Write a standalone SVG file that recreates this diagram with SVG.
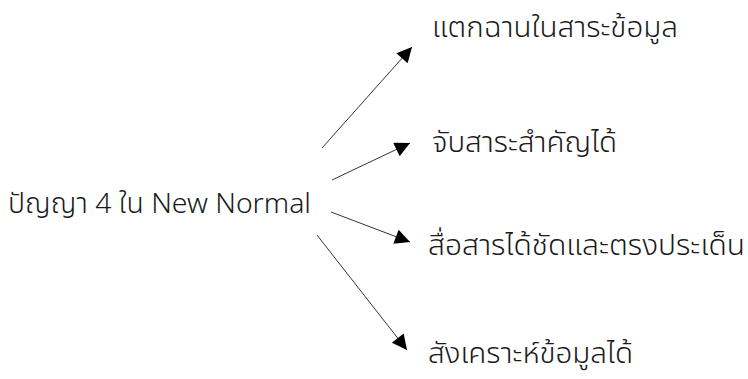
<svg xmlns="http://www.w3.org/2000/svg" width="748" height="379" viewBox="0 0 748 379">
<defs>
<style>
text{font-family:"Noto Sans Thai","Noto Sans","DejaVu Sans",sans-serif;font-size:28px;font-weight:300;fill:#1a1a1a}
.c{stroke:#000;stroke-width:0.8;fill:none;marker-end:url(#ah)}
</style>
<marker id="ah" viewBox="0 0 10 10" refX="10" refY="5" markerWidth="19" markerHeight="15" markerUnits="userSpaceOnUse" orient="auto">
<path d="M0,0 L10,5 L0,10 Z" fill="#000"/>
</marker>
</defs>
<rect width="748" height="379" fill="#fff"/>
<g id="connectors">
<line class="c" x1="322" y1="148" x2="412" y2="47"/>
<line class="c" x1="332" y1="180" x2="410" y2="143"/>
<line class="c" x1="331" y1="212" x2="410" y2="242"/>
<line class="c" x1="317" y1="235" x2="407" y2="350"/>
</g>
<g id="root"><text x="8" y="213" textLength="303" lengthAdjust="spacingAndGlyphs">ปัญญา 4 ใน New Normal</text></g>
<g id="n1"><text x="432" y="37" textLength="246" lengthAdjust="spacingAndGlyphs">แตกฉานในสาระข้อมูล</text></g>
<g id="n2"><text x="432" y="152" textLength="185" lengthAdjust="spacingAndGlyphs">จับสาระสำคัญได้</text></g>
<g id="n3"><text x="428" y="255" textLength="317" lengthAdjust="spacingAndGlyphs">สื่อสารได้ชัดและตรงประเด็น</text></g>
<g id="n4"><text x="428" y="363" textLength="205" lengthAdjust="spacingAndGlyphs">สังเคราะห์ข้อมูลได้</text></g>
</svg>
